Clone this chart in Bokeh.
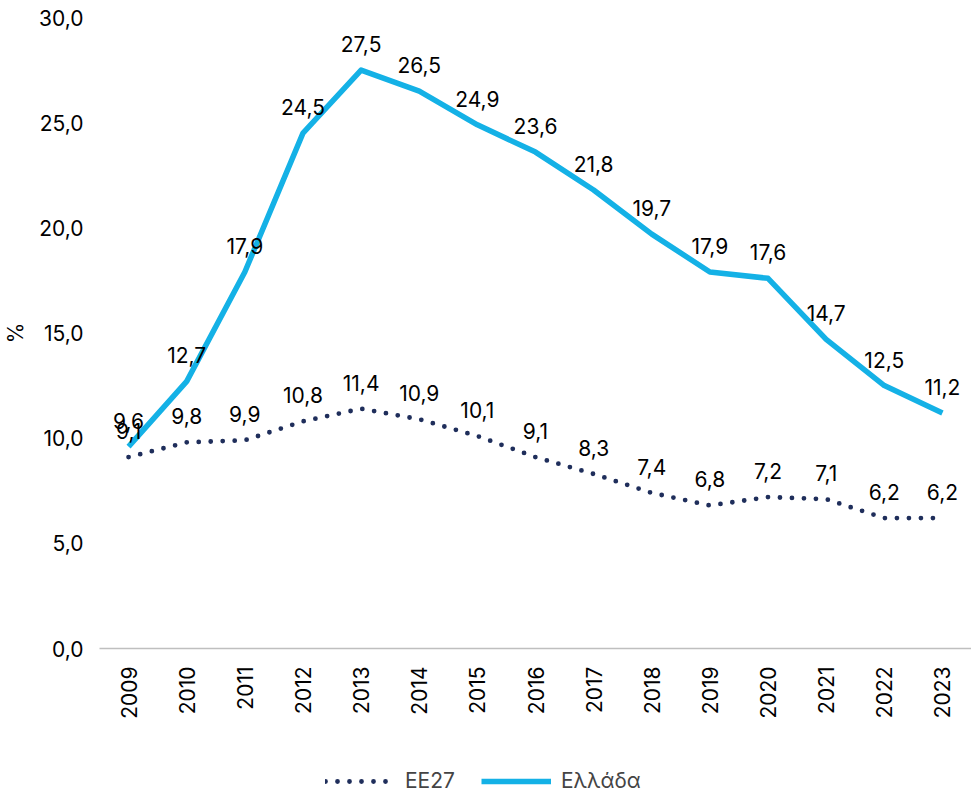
from bokeh.plotting import figure
from bokeh.layouts import column
from bokeh.models import Range1d, FactorRange, FixedTicker, Legend, LegendItem, ColumnDataSource
from bokeh.core.properties import value
from bokeh.embed import file_html
from bokeh.resources import INLINE

years = ["2009", "2010", "2011", "2012", "2013", "2014", "2015", "2016",
         "2017", "2018", "2019", "2020", "2021", "2022", "2023"]
ee27 = [9.1, 9.8, 9.9, 10.8, 11.4, 10.9, 10.1, 9.1, 8.3, 7.4, 6.8, 7.2, 7.1, 6.2, 6.2]
greece = [9.6, 12.7, 17.9, 24.5, 27.5, 26.5, 24.9, 23.6, 21.8, 19.7, 17.9, 17.6, 14.7, 12.5, 11.2]
y_ticks = [0, 5, 10, 15, 20, 25, 30]
y_tick_labels = ["0,0", "5,0", "10,0", "15,0", "20,0", "25,0", "30,0"]
series_names = ["EE27", "Ελλάδα"]

FONT = "Inter"
FS = "21px"
NAVY = "#1F2E5B"
BLUE = "#14B1E6"

def fmt(v):
    return f"{v:.1f}".replace(".", ",")

src = ColumnDataSource(dict(
    x=years, ee27=ee27, greece=greece,
    ee27_lbl=[fmt(v) for v in ee27], greece_lbl=[fmt(v) for v in greece],
))

p = figure(frame_width=872, frame_height=631, x_range=FactorRange(*years), y_range=Range1d(0, 30),
           output_backend="svg", toolbar_location=None,
           min_border_left=80, min_border_right=0, min_border_top=17, min_border_bottom=0)
p.outline_line_color = None
p.xgrid.visible = False
p.ygrid.visible = False
p.background_fill_color = "white"
p.border_fill_color = "white"

line_styles = [dict(line_color=NAVY, line_width=4.8, line_dash="0 12", line_cap="round"),
               dict(line_color=BLUE, line_width=5.5, line_join="round")]

r1 = p.line("x", "ee27", source=src, **line_styles[0])
r2 = p.line("x", "greece", source=src, **line_styles[1])

for col in ["ee27_lbl", "greece_lbl"]:
    ycol = col.replace("_lbl", "")
    p.text("x", ycol, text=col, source=src, text_align="center", text_baseline="bottom",
           y_offset=-18, text_font=value(FONT), text_font_size=FS, text_color="#000000")

# Y axis
p.yaxis.ticker = FixedTicker(ticks=y_ticks)
p.yaxis.major_label_overrides = {t: l for t, l in zip(y_ticks, y_tick_labels)}
p.yaxis.axis_line_color = None
p.yaxis.major_tick_line_color = None
p.yaxis.minor_tick_line_color = None
p.yaxis.major_label_text_font = FONT
p.yaxis.major_label_text_font_size = FS
p.yaxis.major_label_text_color = "#000000"
p.yaxis.major_label_standoff = 10
p.yaxis.axis_label = "%"
p.yaxis.axis_label_text_font = FONT
p.yaxis.axis_label_text_font_style = "normal"
p.yaxis.axis_label_text_font_size = FS
p.yaxis.axis_label_text_color = "#000000"
p.yaxis.axis_label_standoff = 8

# X axis
p.xaxis.axis_line_color = "#BFBFBF"
p.xaxis.axis_line_width = 1.5
p.xaxis.major_tick_line_color = None
p.xaxis.minor_tick_line_color = None
p.xaxis.major_label_orientation = 3.14159265 / 2
p.xaxis.major_label_text_font = FONT
p.xaxis.major_label_text_font_size = FS
p.xaxis.major_label_text_color = "#000000"
p.xaxis.major_label_standoff = 12
p.x_range.range_padding = 0
p.x_range.group_padding = 0

# Legend strip below the chart (legend-only renderers, nothing drawn in range)
p2 = figure(width=963, height=72, x_range=Range1d(0, 1), y_range=Range1d(0, 1),
            output_backend="svg", toolbar_location=None,
            x_axis_location=None, y_axis_location=None,
            min_border_left=0, min_border_right=0, min_border_top=0, min_border_bottom=0)
p2.outline_line_color = None
p2.xgrid.visible = False
p2.ygrid.visible = False
nan = float("nan")
lr1 = p2.line(x=[nan], y=[nan], **line_styles[0])
lr2 = p2.line(x=[nan], y=[nan], **line_styles[1])

legend = Legend(items=[LegendItem(label=series_names[0], renderers=[lr1]),
                       LegendItem(label=series_names[1], renderers=[lr2])],
                orientation="horizontal", location=(226, 0),
                label_text_font=FONT, label_text_font_size=FS,
                glyph_width=70, glyph_height=20, spacing=26, label_standoff=10,
                border_line_color=None, background_fill_alpha=0, margin=0, padding=0)
p2.add_layout(legend, "center")

layout = column(p, p2, spacing=0)
open("out.html", "w").write(file_html(layout, INLINE))
